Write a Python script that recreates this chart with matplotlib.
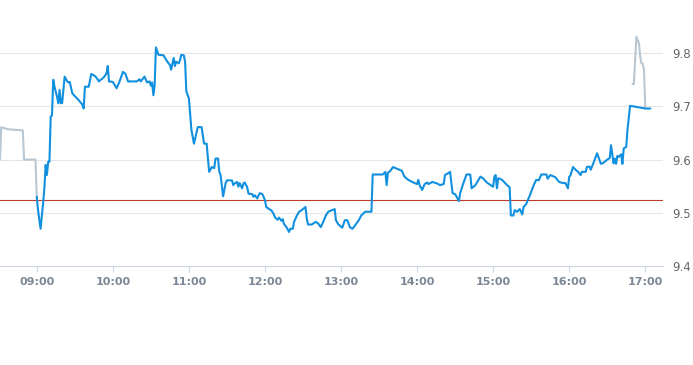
import matplotlib

matplotlib.use("Agg")
import matplotlib.pyplot as plt

# intraday price, regular session (blue)
session_times = [
    "09:00", "09:01", "09:03", "09:05", "09:06", "09:07", "09:08", "09:09", "09:10", "09:11",
    "09:12", "09:13", "09:14", "09:16", "09:17", "09:18", "09:19", "09:20", "09:22", "09:24",
    "09:25", "09:26", "09:28", "09:29", "09:33", "09:36", "09:37", "09:38", "09:41", "09:43",
    "09:46", "09:48", "09:49", "09:53", "09:55", "09:56", "09:57", "10:00", "10:03", "10:05",
    "10:08", "10:10", "10:12", "10:19", "10:21", "10:22", "10:25", "10:27", "10:29", "10:30",
    "10:31", "10:32", "10:33", "10:34", "10:36", "10:40", "10:43", "10:45", "10:46", "10:48",
    "10:49", "10:50", "10:52", "10:53", "10:54", "10:56", "10:57", "10:58", "11:00", "11:02",
    "11:04", "11:07", "11:10", "11:12", "11:14", "11:16", "11:18", "11:20", "11:21", "11:23",
    "11:24", "11:25", "11:27", "11:29", "11:30", "11:34", "11:35", "11:36", "11:38", "11:39",
    "11:40", "11:42", "11:43", "11:44", "11:46", "11:47", "11:50", "11:51", "11:52", "11:54",
    "11:55", "11:56", "11:58", "12:00", "12:01", "12:04", "12:05", "12:07", "12:08", "12:10",
    "12:11", "12:13", "12:14", "12:15", "12:17", "12:19", "12:20", "12:22", "12:23", "12:25",
    "12:27", "12:29", "12:32", "12:33", "12:34", "12:37", "12:40", "12:42", "12:44", "12:46",
    "12:48", "12:50", "12:53", "12:55", "12:56", "12:58", "13:01", "13:03", "13:05", "13:07",
    "13:09", "13:11", "13:14", "13:16", "13:19", "13:24", "13:25", "13:33", "13:35", "13:36",
    "13:37", "13:39", "13:41", "13:44", "13:48", "13:50", "13:53", "13:57", "14:00", "14:01",
    "14:02", "14:04", "14:06", "14:08", "14:09", "14:12", "14:16", "14:18", "14:21", "14:22",
    "14:25", "14:26", "14:28", "14:30", "14:31", "14:33", "14:34", "14:36", "14:39", "14:42",
    "14:43", "14:46", "14:50", "14:52", "14:55", "14:58", "15:00", "15:01", "15:02", "15:03",
    "15:04", "15:07", "15:11", "15:13", "15:14", "15:16", "15:17", "15:19", "15:21", "15:22",
    "15:23", "15:24", "15:26", "15:29", "15:32", "15:34", "15:36", "15:38", "15:42", "15:43",
    "15:45", "15:49", "15:52", "15:55", "15:57", "15:59", "16:00", "16:01", "16:03", "16:05",
    "16:07", "16:09", "16:10", "16:13", "16:14", "16:16", "16:17", "16:19", "16:20", "16:22",
    "16:24", "16:25", "16:27", "16:30", "16:32", "16:33", "16:35", "16:36", "16:37", "16:38",
    "16:39", "16:41", "16:42", "16:43", "16:45", "16:46", "16:48", "16:51", "17:00", "17:04",
]
session_prices = [
    9.530, 9.505, 9.470, 9.518, 9.546, 9.590, 9.571, 9.596, 9.596, 9.681,
    9.683, 9.750, 9.737, 9.718, 9.706, 9.731, 9.706, 9.706, 9.756, 9.747,
    9.745, 9.746, 9.725, 9.722, 9.712, 9.703, 9.696, 9.737, 9.737, 9.761,
    9.757, 9.751, 9.747, 9.755, 9.762, 9.776, 9.747, 9.746, 9.734, 9.745,
    9.765, 9.761, 9.747, 9.747, 9.751, 9.747, 9.756, 9.745, 9.747, 9.739,
    9.745, 9.721, 9.740, 9.811, 9.797, 9.796, 9.784, 9.778, 9.769, 9.791,
    9.776, 9.784, 9.781, 9.787, 9.797, 9.796, 9.784, 9.728, 9.715, 9.656,
    9.630, 9.661, 9.661, 9.630, 9.630, 9.577, 9.586, 9.584, 9.602, 9.602,
    9.577, 9.571, 9.531, 9.556, 9.561, 9.561, 9.552, 9.555, 9.558, 9.549,
    9.556, 9.546, 9.555, 9.557, 9.548, 9.536, 9.535, 9.530, 9.533, 9.527,
    9.533, 9.537, 9.535, 9.524, 9.511, 9.506, 9.505, 9.497, 9.491, 9.487,
    9.491, 9.485, 9.488, 9.479, 9.473, 9.464, 9.470, 9.470, 9.483, 9.494,
    9.502, 9.505, 9.511, 9.489, 9.478, 9.478, 9.483, 9.480, 9.473, 9.483,
    9.495, 9.502, 9.505, 9.507, 9.486, 9.478, 9.472, 9.486, 9.486, 9.473,
    9.470, 9.476, 9.486, 9.495, 9.502, 9.502, 9.572, 9.572, 9.577, 9.552,
    9.575, 9.579, 9.586, 9.583, 9.579, 9.568, 9.562, 9.557, 9.554, 9.562,
    9.552, 9.543, 9.554, 9.557, 9.554, 9.558, 9.555, 9.552, 9.554, 9.571,
    9.575, 9.577, 9.537, 9.535, 9.531, 9.522, 9.537, 9.552, 9.572, 9.572,
    9.546, 9.552, 9.568, 9.565, 9.557, 9.552, 9.549, 9.568, 9.571, 9.546,
    9.565, 9.562, 9.552, 9.548, 9.495, 9.495, 9.505, 9.502, 9.507, 9.502,
    9.497, 9.511, 9.516, 9.533, 9.552, 9.562, 9.561, 9.572, 9.572, 9.564,
    9.571, 9.567, 9.558, 9.556, 9.556, 9.546, 9.568, 9.570, 9.586, 9.581,
    9.577, 9.571, 9.577, 9.577, 9.586, 9.587, 9.581, 9.593, 9.599, 9.612,
    9.599, 9.592, 9.594, 9.600, 9.603, 9.627, 9.593, 9.602, 9.592, 9.607,
    9.605, 9.610, 9.592, 9.621, 9.624, 9.656, 9.701, 9.700, 9.696, 9.696,
]

# pre- and post-market prices (grey)
pre_times = ["08:31", "08:32", "08:37", "08:49", "08:50", "08:59", "09:00"]
pre_prices = [9.600, 9.661, 9.657, 9.655, 9.600, 9.600, 9.530]
post_times = ["16:50", "16:51", "16:52", "16:53", "16:55", "16:56", "16:57", "16:58", "16:59", "17:00"]
post_prices = [9.742, 9.742, 9.787, 9.831, 9.819, 9.794, 9.781, 9.780, 9.770, 9.698]

prev_close = 9.525
hour_labels = ["09:00", "10:00", "11:00", "12:00", "13:00", "14:00", "15:00", "16:00", "17:00"]
price_ticks = [9.4, 9.5, 9.6, 9.7, 9.8]


def to_minutes(stamps):
    out = []
    for s in stamps:
        h, m = s.split(":")
        out.append(int(h) * 60 + int(m))
    return out


fig = plt.figure(figsize=(6.93, 3.65), dpi=100)
ax = fig.add_axes([0.0, 99 / 365, 663 / 693, 266 / 365])

for y in price_ticks[1:]:
    ax.axhline(y, color="#e6e6e6", linewidth=0.8, zorder=0)

ax.axhline(prev_close, color="#c0392b", linewidth=0.8, zorder=1)

line_kw = dict(linewidth=1.5, solid_joinstyle="round", solid_capstyle="round")
ax.plot(to_minutes(pre_times), pre_prices, color="#b9c7d3", zorder=2, **line_kw)
ax.plot(to_minutes(post_times), post_prices, color="#b9c7d3", zorder=2, **line_kw)
ax.plot(to_minutes(session_times), session_prices, color="#1190df", zorder=3, **line_kw)

ax.set_xlim(to_minutes(["08:31"])[0], to_minutes(["17:14"])[0])
ax.set_ylim(9.4, 9.9)

ax.set_xticks(to_minutes(hour_labels))
ax.set_xticklabels(hour_labels)
ax.set_yticks(price_ticks)
ax.set_yticklabels([f"{v:.1f}" for v in price_ticks])

ax.yaxis.tick_right()
for side in ("top", "left", "right"):
    ax.spines[side].set_visible(False)
ax.spines["bottom"].set_color("#ccd6eb")
ax.spines["bottom"].set_linewidth(0.8)

ax.tick_params(axis="x", length=4, width=0.8, color="#ccd6eb", pad=4,
               labelsize=8, labelcolor="#7b8794")
for lab in ax.get_xticklabels():
    lab.set_fontweight("bold")
ax.tick_params(axis="y", length=0, pad=7, labelsize=8.5, labelcolor="#666666")

fig.savefig("out.png", dpi=100)
